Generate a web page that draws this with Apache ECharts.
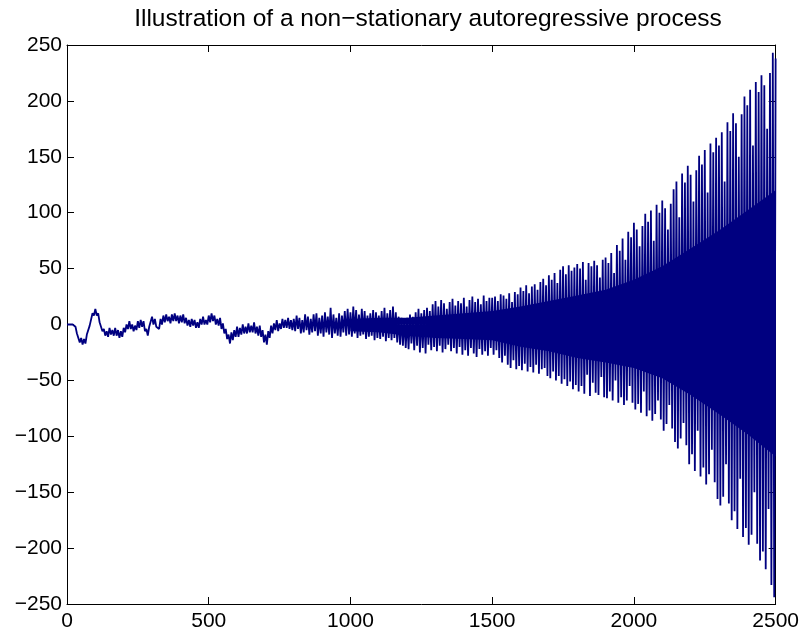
<!DOCTYPE html>
<html><head><meta charset="utf-8">
<script src="https://cdn.jsdelivr.net/npm/echarts@6/dist/echarts.min.js"></script>
<style>html,body{margin:0;padding:0;background:#fff}#c{width:802px;height:637px}</style>
</head><body><div id="c"></div>
<script>
const chartTitle = 'Illustration of a non\u2212stationary autoregressive process';
const xTicks = [0, 500, 1000, 1500, 2000, 2500];
const yTicks = [-250, -200, -150, -100, -50, 0, 50, 100, 150, 200, 250];

// Upper tips of the series, one every 10 samples (x = 0, 10, ..., 2500)
const peaks = [
  0,0,0,-2,-9,-12,-13,-9,-1,10, 14,10,1,-4,-6,-3,-5,-3,-5,-6,
  -3,0,3,0,-1,3,4,3,-4,-2, 7,5,-1,5,8,9,7,9,10,8,
  8,9,6,4,5,4,2,5,7,4, 8,10,8,5,6,1,-4,-9,-7,-5,
  -2,-3,0,-2,1,-1,2,-2,-1,-5, -9,-6,-1,1,4,1,5,4,6,4,
  5,8,6,4,9,7,5,9,10,6, 8,11,7,15,9,6,10,8,12,14,
  11,16,13,9,14,12,8,10,13,11, 8,12,15,10,13,16,11,7,6,5,
  6,9,7,11,14,10,13,15,12,18, 21,16,22,19,14,20,23,17,21,19,
  24,16,22,25,20,23,18,26,21,24,
  24,25,21,27,26,23,28,20,29,27, 33,30,35,28,34,36,31,38,41,35,
  44,40,46,37,49,52,45,53,48,51,
  54,50,56,40,55,52,57,53,42,58, 60,55,64,46,71,66,77,58,83,78,
  91,85,70,88,99,92,102,75,107,100,
  111,104,85,108,121,128,96,135,127,142, 134,110,138,151,143,156,118,162,154,167,
  160,172,128,181,173,189,180,150,188,204, 196,210,160,217,208,223,214,175,225,243,238
];
// Lower tips, halfway between the peaks (x = 5, 15, ..., 2495)
const troughs = [
  0,0,-1,-8,-16,-18,-17,-10,-2,8, 8,2,-6,-10,-11,-9,-10,-10,-12,-11,
  -7,-4,-4,-6,-5,-3,-2,-6,-10,-3, 0,-2,-4,0,2,3,1,3,3,1,
  2,1,-1,-2,-1,-3,-3,0,0,0, 2,3,0,-1,-4,-8,-13,-17,-14,-11,
  -11,-9,-8,-8,-7,-7,-8,-10,-11,-16, -18,-12,-8,-5,-6,-4,-3,-3,-4,-5,
  -6,-4,-8,-7,-5,-9,-7,-6,-10,-8, -11,-7,-9,-12,-8,-10,-11,-7,-10,-9,
  -11,-8,-12,-10,-9,-13,-11,-10,-14,-12, -13,-11,-15,-12,-14,-12,-16,-18,-19,-21,
  -22,-17,-23,-19,-25,-21,-26,-18,-23,-20, -24,-19,-25,-22,-18,-24,-21,-26,-20,-27,
  -23,-28,-21,-26,-29,-22,-27,-24,-28,-21,
  -27,-23,-30,-34,-28,-36,-39,-32,-40,-37, -41,-35,-42,-38,-43,-36,-44,-40,-39,-46,
  -48,-42,-50,-46,-53,-49,-55,-51,-58,-54,
  -60,-55,-62,-45,-64,-52,-61,-63,-47,-65, -66,-60,-68,-50,-70,-65,-72,-68,-55,-70,
  -76,-71,-79,-60,-82,-77,-86,-80,-68,-85,
  -95,-89,-72,-93,-105,-111,-102,-88,-108,-125, -116,-131,-95,-136,-128,-143,-134,-112,-141,-156,
  -162,-154,-125,-160,-175,-167,-183,-138,-190,-182, -197,-188,-150,-196,-211,-203,-219,-165,-233,-244
];
const peakSpacing = 10;

// Solid (fully inked) core of the dense oscillation, read every 100 samples
const coreX     = [1000, 1100, 1200, 1300, 1400, 1500, 1600, 1700, 1800, 1900, 2000, 2100, 2200, 2300, 2400, 2500];
const coreUpper = [5, 6, 6, 8, 10, 12, 16, 21, 26, 31, 40, 52, 68, 84, 102, 120];
const coreLower = [-6, -7, -10, -12, -13, -14, -20, -24, -30, -34, -39, -48, -63, -80, -98, -118];

const seriesData = [];
for (let i = 0; i < peaks.length; i++) {
  seriesData.push([i * peakSpacing, peaks[i]]);
  if (i < troughs.length) seriesData.push([i * peakSpacing + peakSpacing / 2, troughs[i]]);
}
const coreUpperData = coreX.map((x, i) => [x, coreUpper[i]]);
const coreLowerData = coreX.map((x, i) => [x, coreLower[i]]);

const NAVY = '#000080';
const FONT = '"Liberation Sans", Arial, Helvetica, sans-serif';
const minus = v => String(v).replace('-', '\u2212');
const axisLine = { show: true, onZero: false, lineStyle: { color: '#000', width: 1 } };
const tick = { show: true, inside: true, length: 7, lineStyle: { color: '#000', width: 1 } };
const coreSeries = d => ({
  type: 'line', data: d, showSymbol: false, symbol: 'none', silent: true, z: 1,
  lineStyle: { width: 0, opacity: 0 }, areaStyle: { color: NAVY, opacity: 1, origin: 0 }
});

const chart = echarts.init(document.getElementById('c'), null, { renderer: 'canvas' });
chart.setOption({
  animation: false,
  backgroundColor: '#fff',
  title: {
    text: chartTitle, left: 423, top: 2, textAlign: 'center',
    textStyle: { fontFamily: FONT, fontSize: 24.5, fontWeight: 'normal', color: '#000' }
  },
  grid: { left: 67, right: 25, top: 45, bottom: 33, containLabel: false },
  xAxis: [
    { type: 'value', min: xTicks[0], max: xTicks[xTicks.length - 1], interval: 500, position: 'bottom',
      axisLine, axisTick: tick, splitLine: { show: false },
      axisLabel: { color: '#000', fontFamily: FONT, fontSize: 21, margin: 7, formatter: minus } },
    { type: 'value', min: xTicks[0], max: xTicks[xTicks.length - 1], interval: 500, position: 'top',
      axisLine, axisTick: tick, splitLine: { show: false }, axisLabel: { show: false } }
  ],
  yAxis: [
    { type: 'value', min: yTicks[0], max: yTicks[yTicks.length - 1], interval: 50, position: 'left',
      axisLine, axisTick: tick, splitLine: { show: false },
      axisLabel: { color: '#000', fontFamily: FONT, fontSize: 21, margin: 5, formatter: minus } },
    { type: 'value', min: yTicks[0], max: yTicks[yTicks.length - 1], interval: 50, position: 'right',
      axisLine, axisTick: tick, splitLine: { show: false }, axisLabel: { show: false } }
  ],
  series: [
    coreSeries(coreUpperData),
    coreSeries(coreLowerData),
    {
      type: 'line', xAxisIndex: 0, yAxisIndex: 0, data: seriesData, z: 2,
      showSymbol: false, symbol: 'none', sampling: null, smooth: false,
      lineStyle: { color: NAVY, width: 1.8 }, clip: true
    }
  ]
});
</script></body></html>
